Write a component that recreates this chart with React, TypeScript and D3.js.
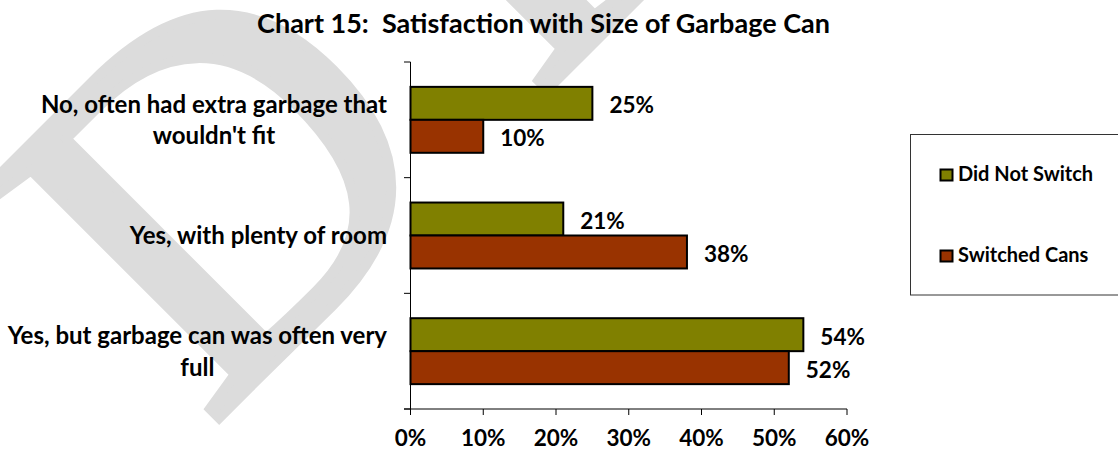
import React from "react";
import * as d3 from "d3";

const title = "Chart 15:  Satisfaction with Size of Garbage Can";
const categoryLines: string[][] = [
  ["No, often had extra garbage that", "wouldn't fit"],
  ["Yes, with plenty of room"],
  ["Yes, but garbage can was often very", "full"],
];
const categories = categoryLines.map((l) => l.join(" "));
const seriesNames = ["Did Not Switch", "Switched Cans"];
const didNotSwitch = [0.25, 0.21, 0.54];
const switchedCans = [0.1, 0.38, 0.52];
const xTicks = [0, 0.1, 0.2, 0.3, 0.4, 0.5, 0.6];
const seriesColors = ["#808000", "#993300"];

const W = 1118;
const H = 452;
const FONT = "Lato, 'Open Sans', sans-serif";

export default function App() {
  const x = d3.scaleLinear().domain([0, 0.6]).range([410.5, 847]);
  const y = d3
    .scaleBand<string>()
    .domain(categories)
    .range([62, 409])
    .paddingInner(0.43)
    .paddingOuter(0.215);
  const inner = d3
    .scaleBand<string>()
    .domain(seriesNames)
    .range([0, y.bandwidth()]);
  const step = y.step();
  const series = [didNotSwitch, switchedCans];
  const pct = d3.format(".0%");
  const boundaries = d3.range(categories.length + 1).map((i) => 62 + i * step);
  const labelRight = 387;
  const labelFs = 24;
  const lineGap = 31.5;
  const valFs = 22.5;

  return (
    <svg
      width={W}
      height={H}
      style={{ position: "absolute", left: 0, top: 0, background: "#fff" }}
      fontFamily={FONT}
    >
      {/* watermark */}
      <text
        transform="translate(209,428) rotate(-45)"
        fontFamily="'Liberation Serif', 'Times New Roman', serif"
        fontSize={500}
        fill="#dcdcdc"
        stroke="#dcdcdc"
        strokeWidth={10}
        letterSpacing={100}
      >
        DRAFT
      </text>

      {/* title */}
      <text
        x={543.5}
        y={32.5}
        textAnchor="middle"
        fontWeight="bold"
        fontSize={27}
        style={{ whiteSpace: "pre" }}
        fill="#000"
      >
        {title}
      </text>

      {/* bars */}
      {categories.map((c, ci) =>
        seriesNames.map((s, si) => {
          const v = series[si][ci];
          const by = (y(c) as number) + (inner(s) as number);
          const bh = inner.bandwidth();
          return (
            <g key={c + s}>
              <rect
                x={x(0)}
                y={by}
                width={x(v) - x(0)}
                height={bh}
                fill={seriesColors[si]}
                stroke="#000"
                strokeWidth={2}
              />
              <text
                x={x(v) + 17}
                y={by + bh / 2 + 10}
                fontWeight="bold"
                fontSize={valFs}
                fill="#000"
              >
                {pct(v)}
              </text>
            </g>
          );
        })
      )}

      {/* y axis */}
      <line x1={410.5} x2={410.5} y1={62} y2={409} stroke="#000" strokeWidth={1} />
      {boundaries.map((b, i) => (
        <line key={i} x1={404} x2={410.5} y1={b} y2={b} stroke="#000" strokeWidth={1} />
      ))}

      {/* x axis */}
      <line x1={404} x2={847} y1={409} y2={409} stroke="#000" strokeWidth={1} />
      {xTicks.map((t) => (
        <g key={t}>
          <line x1={x(t)} x2={x(t)} y1={409} y2={415} stroke="#000" strokeWidth={1} />
          <text
            x={x(t)}
            y={446}
            textAnchor="middle"
            fontWeight="bold"
            fontSize={valFs}
            fill="#000"
          >
            {pct(t)}
          </text>
        </g>
      ))}

      {/* category labels */}
      {categoryLines.map((lines, ci) => {
        const cy = (y(categories[ci]) as number) + y.bandwidth() / 2;
        return (
          <CategoryLabel
            key={ci}
            lines={lines}
            right={labelRight}
            cy={cy}
            fs={labelFs}
            gap={lineGap}
          />
        );
      })}

      {/* legend */}
      <rect x={910.5} y={134.5} width={220} height={160.5} fill="#fff" stroke="#333" strokeWidth={1} />
      {seriesNames.map((s, si) => {
        const ly = si === 0 ? 175 : 256;
        return (
          <g key={s}>
            <rect x={940.5} y={ly - 5.5} width={12} height={11} fill={seriesColors[si]} stroke="#000" strokeWidth={2} />
            <text x={958} y={ly + 6} fontWeight="bold" fontSize={20} fill="#000">
              {s}
            </text>
          </g>
        );
      })}
    </svg>
  );
}

function CategoryLabel({
  lines,
  right,
  cy,
  fs,
  gap,
}: {
  lines: string[];
  right: number;
  cy: number;
  fs: number;
  gap: number;
}) {
  const ref = React.useRef<SVGGElement>(null);
  React.useLayoutEffect(() => {
    const g = ref.current;
    if (!g) return;
    const texts = Array.from(g.querySelectorAll("text")) as SVGTextElement[];
    const widths = texts.map((t) => t.getComputedTextLength());
    const maxW = Math.max(...widths);
    const center = right - maxW / 2;
    texts.forEach((t) => t.setAttribute("x", String(center)));
  });
  const n = lines.length;
  const capHalf = fs * 0.36;
  return (
    <g ref={ref}>
      {lines.map((l, i) => (
        <text
          key={i}
          x={right}
          y={cy + (i - (n - 1) / 2) * gap + capHalf}
          textAnchor="middle"
          fontWeight="bold"
          fontSize={fs}
          fill="#000"
        >
          {l}
        </text>
      ))}
    </g>
  );
}
